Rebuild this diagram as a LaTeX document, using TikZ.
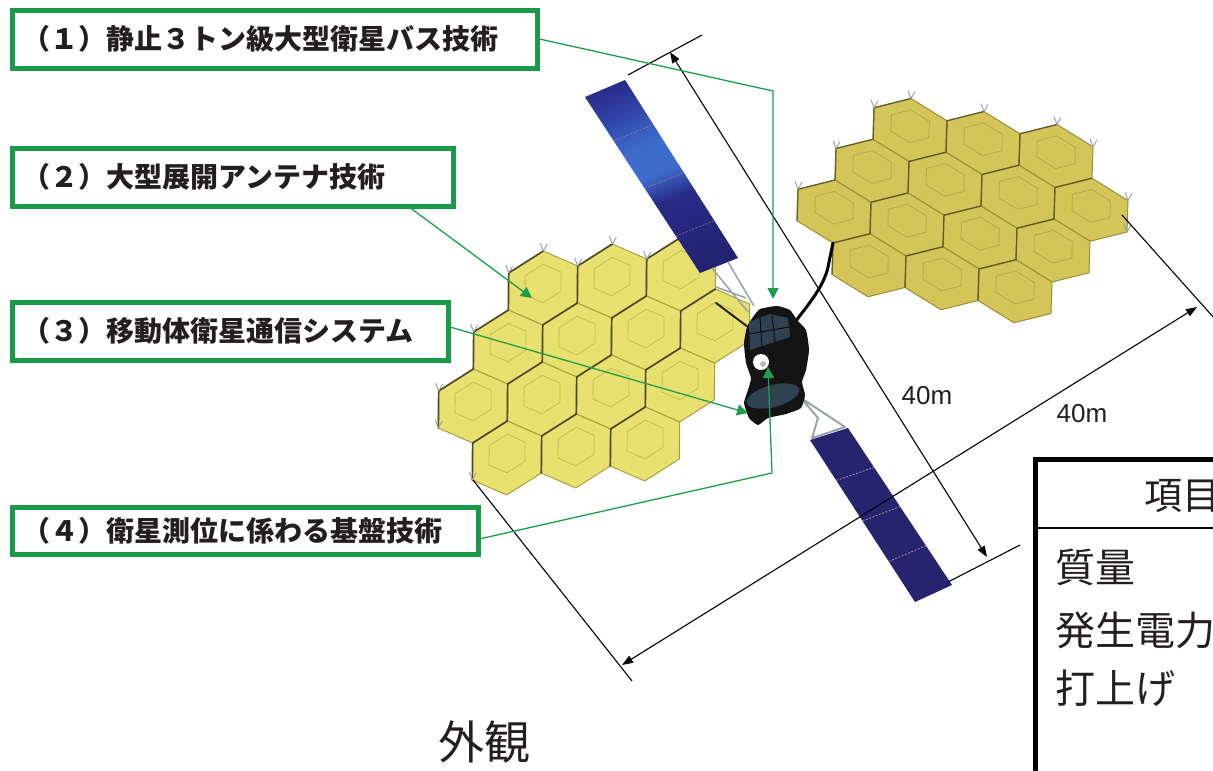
\documentclass[tikz,border=0pt]{standalone}
\usepackage{fontspec}
\setmainfont{Liberation Sans}
\newfontfamily\jpfont{Noto Sans CJK JP}
\usetikzlibrary{arrows.meta,calc}

\definecolor{lblgreen}{HTML}{1A9A48}
\definecolor{leadgreen}{HTML}{1E9E4A}
\definecolor{hexL}{HTML}{E9E16F}
\definecolor{hexLline}{HTML}{A89F3E}
\definecolor{hexR}{HTML}{D4C558}
\definecolor{hexRline}{HTML}{9A8D38}
\definecolor{hexShadow}{HTML}{3C3822}
\definecolor{panelNavy}{HTML}{24246F}
\definecolor{pnA}{HTML}{2A2B88}
\definecolor{pnB}{HTML}{3044A8}
\definecolor{pnC}{HTML}{3D6CCD}
\definecolor{pnD}{HTML}{272B86}
\definecolor{pnE}{HTML}{222270}
\definecolor{busSlate}{HTML}{2F4252}
\definecolor{trussGray}{HTML}{9AA2AA}
\definecolor{cellPink}{HTML}{B88A9C}
\definecolor{inkGray}{HTML}{231F20}

\begin{document}
\begin{tikzpicture}[x=1pt,y=-1pt,
  labelbox/.style={draw=lblgreen, line width=5pt, fill=white, inner xsep=10.5pt,
    inner ysep=0pt, align=left, anchor=north west, text=inkGray,
    font=\jpfont\bfseries\fontsize{28}{30}\selectfont},
  leader/.style={draw=leadgreen, line width=1.3pt, line join=miter,
    -{Triangle[length=11pt,width=11pt]}},
  dimline/.style={draw=black, line width=1.1pt,
    {Triangle[length=11pt,width=8pt]}-{Triangle[length=11pt,width=8pt]}},
  extline/.style={draw=black, line width=1.1pt},
  dimlabel/.style={font=\fontsize{26}{28}\selectfont, text=inkGray, inner sep=0pt},
  tabletext/.style={font=\jpfont\fontsize{40}{44}\selectfont, text=inkGray, inner sep=0pt, anchor=west},
  hexcellL/.style={fill=hexL, draw=hexLline, line width=1pt, line join=round},
  hexcellR/.style={fill=hexR, draw=hexRline, line width=1pt, line join=round},
  hexedge/.style={draw=hexShadow, line width=1.7pt, line join=round, line cap=round, opacity=0.85},
  hexedgeR/.style={draw=hexShadow, line width=1.4pt, line join=round, line cap=round, opacity=0.6},
  dishL/.style={draw=hexLline, line width=0.8pt, opacity=0.55},
  dishR/.style={draw=hexRline, line width=0.8pt, opacity=0.55},
  tuft/.style={draw=trussGray, line width=1pt},
  truss/.style={draw=trussGray, line width=1.5pt},
  cellline/.style={draw=cellPink, line width=0.8pt, dash pattern=on 2pt off 1.5pt}]

\useasboundingbox (0,0) rectangle (1213,771);
\clip (0,0) rectangle (1213,771);

% ---------- right reflector (behind the bus) ----------
\begin{scope}[shift={(910,130)}, x={(73pt,-13pt)}, y={(-2pt,-63pt)}]
  \foreach \u/\v in {0/0,1/0,2/0,-0.5/0.75,0.5/0.75,1.5/0.75,2.5/0.75,
                     -1/1.5,0/1.5,1/1.5,2/1.5,-0.5/2.25,0.5/2.25,1.5/2.25}{
    \filldraw[hexcellR] (\u,\v) ++(0,-0.5) -- ++(0.5,0.25) -- ++(0,0.5)
      -- ++(-0.5,0.25) -- ++(-0.5,-0.25) -- ++(0,-0.5) -- cycle;
    \draw[dishR] (\u,\v-0.06) ++(0,-0.26) -- ++(0.26,0.13) -- ++(0,0.26)
      -- ++(-0.26,0.13) -- ++(-0.26,-0.13) -- ++(0,-0.26) -- cycle;
    \draw[hexedgeR] (\u,\v) ++(-0.5,0.25) -- ++(0,-0.5) -- ++(0.5,-0.25);
  }
  \foreach \p in {(0,-0.5),(1,-0.5),(2,-0.5),(-0.5,-0.25),(-1,0.5),(-1.5,1.25),
                  (2.5,-0.25),(3,0.5),(3,1)}{
    \draw[tuft] \p -- ++(-3pt,8pt) \p -- ++(4pt,7pt);
  }
\end{scope}

% boom carrying the right reflector
\draw[black, line width=3pt, line cap=round] (795,322) .. controls (812,300) and (826,283) .. (829,262) -- (833,243);

% ---------- left reflector ----------
\begin{scope}[shift={(543,288)}, x={(69pt,7pt)}, y={(-0.67pt,-74pt)}]
  \foreach \u/\v in {0/0,1/0,2/0,-0.5/0.75,0.5/0.75,1.5/0.75,2.5/0.75,
                     -1/1.5,0/1.5,1/1.5,2/1.5,-0.5/2.25,0.5/2.25,1.5/2.25}{
    \filldraw[hexcellL] (\u,\v) ++(0,-0.5) -- ++(0.5,0.25) -- ++(0,0.5)
      -- ++(-0.5,0.25) -- ++(-0.5,-0.25) -- ++(0,-0.5) -- cycle;
    \draw[dishL] (\u,\v-0.06) ++(0,-0.26) -- ++(0.26,0.13) -- ++(0,0.26)
      -- ++(-0.26,0.13) -- ++(-0.26,-0.13) -- ++(0,-0.26) -- cycle;
    \draw[hexedge] (\u,\v) ++(-0.5,0.25) -- ++(0,-0.5) -- ++(0.5,-0.25);
  }
  \foreach \p in {(0,-0.5),(1,-0.5),(2,-0.5),(-0.5,-0.25),(-1,0.5),(-1.5,1.25),
                  (-1.5,1.75),(-1,2.5),(0.5,-0.25),(1.5,-0.25)}{
    \draw[tuft] \p -- ++(-3pt,8pt) \p -- ++(4pt,7pt);
  }
\end{scope}

% ---------- upper solar array (blended strips along its length) ----------
\coordinate (pTL) at (585,97);
\coordinate (pTR) at (625,80);
\coordinate (pBR) at (738,258);
\coordinate (pBL) at (700,273);
\foreach \ta/\tb/\ca/\cb in {0/0.15/pnA/pnB, 0.15/0.33/pnB/pnC, 0.33/0.48/pnC/pnC,
                             0.48/0.62/pnC/pnD, 0.62/1/pnD/pnE}{
  \foreach \k in {0,...,9}{
    \pgfmathsetmacro\sa{\ta+(\tb-\ta)*\k/10}
    \pgfmathsetmacro\sb{min(1,\ta+(\tb-\ta)*(\k+1.2)/10)}
    \pgfmathsetmacro\mix{95-\k*10}
    \fill[\ca!\mix!\cb] ($(pTL)!\sa!(pBL)$) -- ($(pTR)!\sa!(pBR)$)
      -- ($(pTR)!\sb!(pBR)$) -- ($(pTL)!\sb!(pBL)$) -- cycle;
  }
}
\foreach \t in {0.25,0.52,0.79}{
  \draw[cellline, opacity=0.6] ($(pTL)!\t!(pBL)$) -- ($(pTR)!\t!(pBR)$);
}

% upper array yoke and reflector arm
\draw[truss] (712,268) -- (748,312) (728,262) -- (754,306) (716,287) -- (746,298);
\draw[black!85, line width=2pt, line cap=round] (716,303) -- (752,330);

% ---------- lower solar array ----------
\coordinate (qTL) at (810,440);
\coordinate (qTR) at (848,428);
\coordinate (qBR) at (952,585);
\coordinate (qBL) at (915,602);
\draw[truss, line width=2pt, line join=round] (801,398) -- (818,418) -- (812,438) -- (845,427) -- cycle;
\fill[panelNavy] (qTL) -- (qTR) -- (qBR) -- (qBL) -- cycle;
\foreach \t in {0.25,0.5,0.75}{
  \draw[cellline] ($(qTL)!\t!(qBL)$) -- ($(qTR)!\t!(qBR)$);
}

% ---------- spacecraft bus ----------
\fill[black!92] plot[smooth cycle, tension=0.3] coordinates {(753,317) (760,309) (777,306)
  (790,310) (797,320) (806,330) (809,350) (806,370) (802,382) (805,395) (801,408)
  (786,414) (768,418) (758,425) (749,418) (744,403) (748,390) (751,378) (746,363)
  (744,343) (747,327)};
\fill[busSlate] (749,322) -- (770,314) -- (788,318) -- (790,337) -- (768,344) -- (750,350) -- cycle;
\draw[black, line width=0.8pt] (760,318) -- (762,347) (772,315) -- (775,342) (749,334) -- (789,327);
\fill[busSlate] (773,396) ellipse[x radius=27, y radius=11, rotate=15];
\fill[white] (761,362) circle[radius=8];
\fill[gray!55] (763,364) circle[radius=3];

% ---------- dimensions ----------
\coordinate (e1a) at (628,75);
\coordinate (e1b) at (702,35);
\coordinate (e2a) at (948,582);
\coordinate (e2b) at (1020,545);
\coordinate (d1a) at (670,52);
\coordinate (d1b) at (987,557);
\draw[extline] (e1a) -- (e1b);
\draw[extline] (e2a) -- (e2b);
\draw[dimline] (d1a) -- (d1b);
\node[dimlabel] (len1) at (927,396) {40m};

\coordinate (e3a) at (473,480);
\coordinate (e3b) at (632,681);
\coordinate (e4a) at (1122,215);
\coordinate (e4b) at (1240,347);
\coordinate (d2a) at (622,665);
\coordinate (d2b) at (1197,307);
\draw[extline] (e3a) -- (e3b);
\draw[extline] (e4a) -- (e4b);
\draw[dimline] (d2a) -- (d2b);
\node[dimlabel] (len2) at (1082,414) {40m};

% ---------- callout boxes ----------
\node[labelbox, text width=504pt, minimum height=58pt] (b1) at (9.5,7.5)
  {（１）静止３トン級大型衛星バス技術};
\node[labelbox, text width=420pt, minimum height=58pt] (b2) at (9.5,145.5)
  {（２）大型展開アンテナ技術};
\node[labelbox, text width=415pt, minimum height=58pt] (b3) at (9.5,299.5)
  {（３）移動体衛星通信システム};
\node[labelbox, text width=445pt, minimum height=47pt] (b4) at (9.5,504.5)
  {（４）衛星測位に係わる基盤技術};

% leader lines
\coordinate (k1) at (773,91);
\coordinate (t1) at (773,299);
\coordinate (t2) at (532,298);
\coordinate (t3) at (748,413);
\coordinate (k4) at (772,473);
\coordinate (t4) at (768,367);
\draw[leader] (b1.east) -- (k1) -- (t1);
\draw[leader] (b2.-10.1) -- (t2);
\draw[leader] (b3.1.2) -- (t3);
\draw[leader] (b4.-2.2) -- (k4) -- (t4);

% ---------- specification table ----------
\draw[black, line width=5pt, line join=miter] (1035.5,780) -- (1035.5,459.5) -- (1220,459.5);
\draw[black, line width=2.5pt] (1035.5,528) -- (1220,528);
\node[tabletext, font=\jpfont\fontsize{38}{42}\selectfont] (hdr) at (1144,496) {項目};
\node[tabletext] (row1) at (1055,567) {質量};
\node[tabletext] (row2) at (1055,630) {発生電力};
\node[tabletext] (row3) at (1055,688) {打上げ};

% caption
\node[font=\jpfont\fontsize{46}{50}\selectfont, text=inkGray, inner sep=0pt] (cap) at (484,742) {外観};

\end{tikzpicture}
\end{document}
